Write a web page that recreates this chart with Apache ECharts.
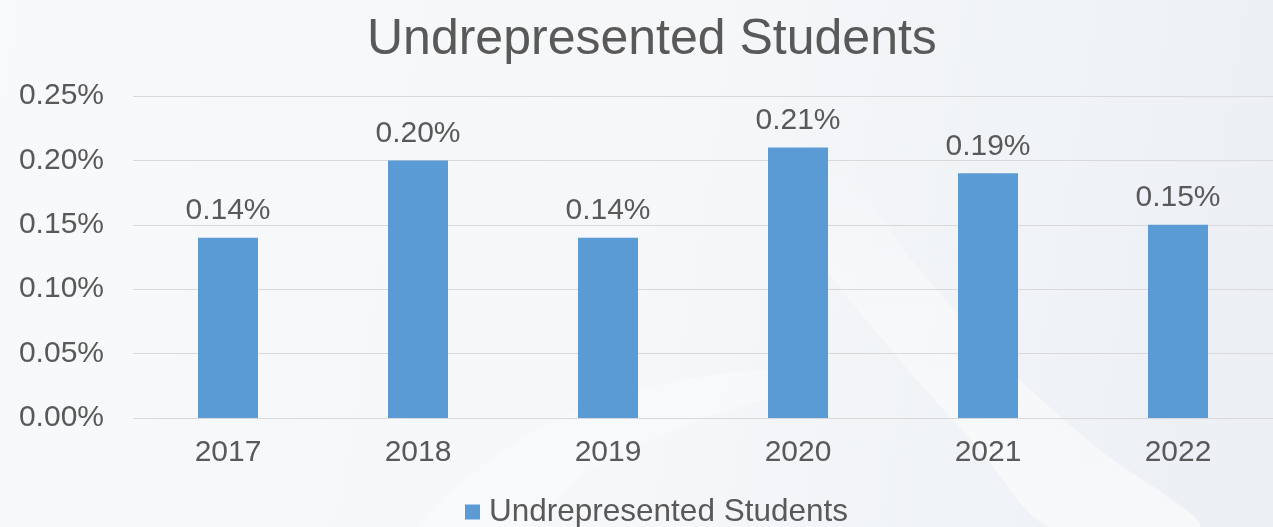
<!DOCTYPE html>
<html>
<head>
<meta charset="utf-8">
<script src="https://cdn.jsdelivr.net/npm/echarts@6/dist/echarts.min.js"></script>
<style>
  html, body { margin: 0; padding: 0; }
  #chart { width: 1273px; height: 527px; }
</style>
</head>
<body>
<div id="chart"></div>
<script>
// Share of undrepresented students per year (percent)
const years = ['2017', '2018', '2019', '2020', '2021', '2022'];
const shares = [0.14, 0.20, 0.14, 0.21, 0.19, 0.15];
const seriesName = 'Undrepresented Students';
const chartTitle = 'Undrepresented Students';

const textColor = '#595959';
const font = 'Liberation Sans, Arial, sans-serif';

const fadeDown = (a) => ({
  type: 'linear', x: 0, y: 0, x2: 0, y2: 1,
  colorStops: [
    { offset: 0, color: 'rgba(255,255,255,0)' },
    { offset: 0.35, color: 'rgba(255,255,255,' + a * 0.6 + ')' },
    { offset: 1, color: 'rgba(255,255,255,' + a + ')' }
  ]
});

const chart = echarts.init(document.getElementById('chart'));
chart.setOption({
  backgroundColor: {
    type: 'linear', x: 0, y: 0, x2: 1, y2: 0.4,
    colorStops: [
      { offset: 0, color: '#f8f9fa' },
      { offset: 0.55, color: '#f5f7f9' },
      { offset: 1, color: '#ecf0f5' }
    ]
  },
  graphic: [
    {
      // soft white swoosh sweeping down to the lower right
      type: 'polygon',
      silent: true,
      z: -10,
      shape: {
        points: [[760, 150], [840, 170], [920, 270], [1010, 370], [1100, 450], [1200, 527],
                 [1050, 527], [980, 450], [900, 360], [820, 260]],
        smooth: 0.3
      },
      style: { fill: fadeDown(0.55) }
    },
    {
      // faint arc across the lower middle
      type: 'polygon',
      silent: true,
      z: -11,
      shape: {
        points: [[420, 527], [520, 440], [640, 390], [760, 370], [820, 380], [700, 420], [590, 470], [520, 527]],
        smooth: 0.3
      },
      style: { fill: 'rgba(255,255,255,0.3)' }
    }
  ],
  title: {
    text: chartTitle,
    left: 362,
    top: 10,
    textStyle: { color: textColor, fontFamily: font, fontSize: 50, fontWeight: 'normal' }
  },
  legend: {
    data: [seriesName],
    left: 460,
    bottom: -6,
    icon: 'rect',
    itemWidth: 15,
    itemHeight: 15,
    textStyle: { color: textColor, fontFamily: font, fontSize: 31.5, padding: [0, 0, 0, 4] }
  },
  grid: { left: 133, right: -5, top: 96, bottom: 109 },
  xAxis: {
    type: 'category',
    data: years,
    axisLine: { show: false },
    axisTick: { show: false },
    axisLabel: { color: textColor, fontFamily: font, fontSize: 30, margin: 20 }
  },
  yAxis: {
    type: 'value',
    min: 0,
    max: 0.25,
    interval: 0.05,
    axisLine: { show: false },
    axisTick: { show: false },
    splitLine: { lineStyle: { color: '#d9d9d9', width: 1 } },
    axisLabel: {
      color: textColor, fontFamily: font, fontSize: 30, margin: 29,
      formatter: v => v.toFixed(2) + '%'
    }
  },
  series: [{
    name: seriesName,
    type: 'bar',
    data: shares,
    barWidth: 60,
    itemStyle: { color: '#5b9bd5' },
    label: {
      show: true,
      position: 'top',
      distance: 12,
      color: textColor,
      fontFamily: font,
      fontSize: 30,
      formatter: p => p.value.toFixed(2) + '%'
    }
  }]
});
</script>
</body>
</html>
